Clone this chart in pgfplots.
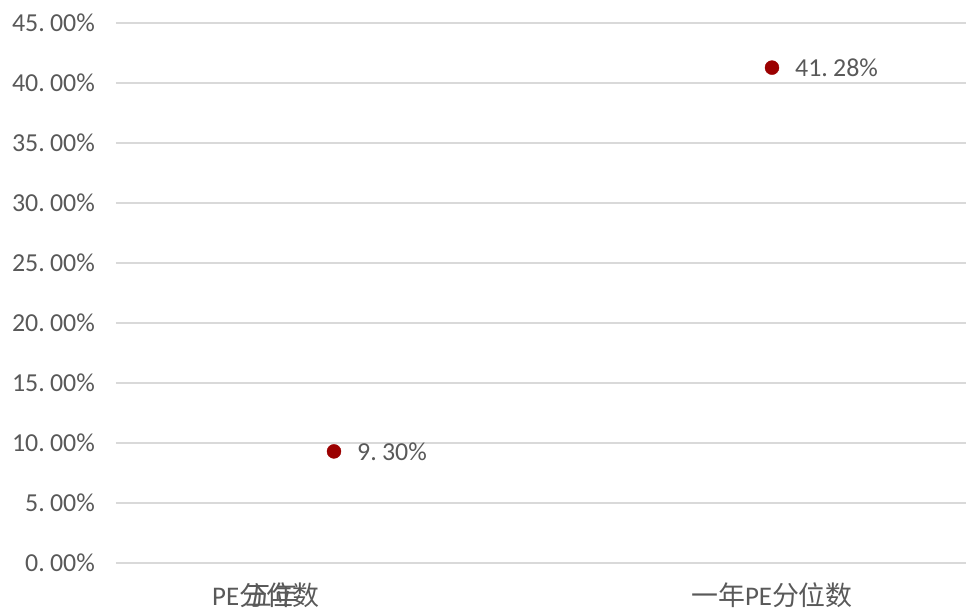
\documentclass[border=0pt]{standalone}
\usepackage{fontspec}
\setmainfont{Carlito}
\newfontfamily\cjk{Noto Sans CJK SC}
\usepackage{pgfplots}
\pgfplotsset{compat=1.18}
\definecolor{txt}{RGB}{89,89,89}
\definecolor{grd}{RGB}{217,217,217}
\definecolor{dotc}{RGB}{155,0,0}
\newcommand{\pc}[2]{#1.\kern0.2em#2\%}
\begin{document}
\begin{tikzpicture}
\useasboundingbox (-116bp,-47bp) rectangle (850bp,563bp);
\begin{axis}[
  at={(0,0)}, anchor=south west,
  scale only axis, width=850bp, height=540bp,
  xmin=-0.4977, xmax=1.443, ymin=0, ymax=45,
  axis line style={draw=none},
  major tick length=0pt,
  ymajorgrids, grid style={grd, line width=1.3bp},
  ytick={0,5,...,45},
  yticklabels={\pc{0}{00},\pc{5}{00},\pc{10}{00},\pc{15}{00},\pc{20}{00},\pc{25}{00},\pc{30}{00},\pc{35}{00},\pc{40}{00},\pc{45}{00}},
  yticklabel style={anchor=east, inner sep=0pt, xshift=-21bp, font=\fontsize{26}{26}\selectfont, text=txt},
  xtick={0,1},
  xticklabels={{\kern-68bp\makebox[0pt]{PE{\cjk 分位数}}\makebox[0pt]{\kern12bp{\cjk 五年}}\kern68bp},{{\cjk 一年}PE{\cjk 分位数}}},
  xticklabel style={anchor=north, inner sep=0pt, yshift=-20bp, font=\fontsize{27}{27}\selectfont, text=txt},
  clip=false,
]
\addplot[only marks, mark=*, mark size=7bp, mark options={fill=dotc, draw=dotc},
  nodes near coords, point meta=explicit symbolic,
  every node near coord/.style={anchor=west, inner sep=0pt, xshift=23bp, font=\fontsize{26}{26}\selectfont, text=txt}]
  coordinates {(0,9.30) [\pc{9}{30}] (1,41.28) [\pc{41}{28}]};
\end{axis}
\end{tikzpicture}
\end{document}
